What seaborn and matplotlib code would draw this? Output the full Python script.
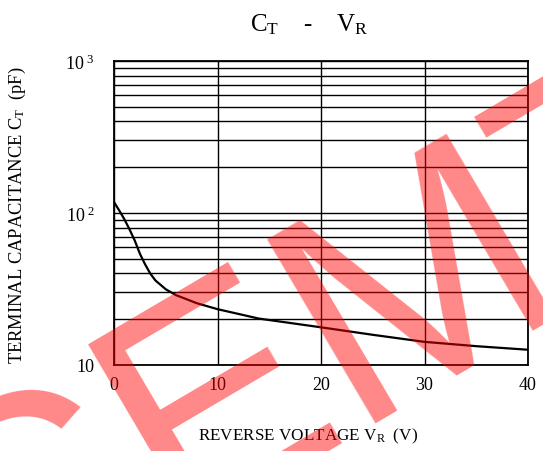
import numpy as np
import pandas as pd
import matplotlib
matplotlib.use("Agg")
import matplotlib.pyplot as plt
import seaborn as sns
from matplotlib.ticker import FixedLocator, NullFormatter

# data
vr = [0, 0.5, 1, 1.5, 2, 2.5, 3, 3.5, 4, 5, 6, 8, 10, 14, 20, 25, 30, 35, 40]
ct = [118, 104, 91, 78, 66, 54, 46, 40, 36, 31.5, 28.8, 25.5, 23.3, 20.2, 17.7, 15.8, 14.2, 13.3, 12.6]
x_ticks = [0, 10, 20, 30, 40]
y_major = [10, 100, 1000]
y_major_labels = ["10", r"$\mathrm{10^{\ 2}}$", r"$\mathrm{10^{\ 3}}$"]
watermark = "CEMT"

sns.set_theme(style="white")
plt.rcParams["font.family"] = ["Liberation Serif", "DejaVu Serif"]
plt.rcParams["mathtext.fontset"] = "custom"
plt.rcParams["mathtext.rm"] = "Liberation Serif"
plt.rcParams["mathtext.it"] = "Liberation Serif"

df = pd.DataFrame({"VR": vr, "CT": ct})

fig = plt.figure(figsize=(5.43, 4.52), dpi=100)
ax = fig.add_axes([114/543, 1 - 366/452, (528 - 114)/543, (366 - 62)/452])
sns.lineplot(data=df, x="VR", y="CT", ax=ax, color="black", linewidth=1.6, zorder=3)
ax.set_yscale("log")
ax.set_xlim(0, 40)
ax.set_ylim(10, 1000)

ax.xaxis.set_major_locator(FixedLocator(x_ticks))
ax.set_xticklabels([str(t) for t in x_ticks])
ax.yaxis.set_major_locator(FixedLocator(y_major))
ax.set_yticklabels(y_major_labels)
minors = [m * d for d in (10, 100) for m in range(2, 10)]
ax.yaxis.set_minor_locator(FixedLocator(minors))
ax.yaxis.set_minor_formatter(NullFormatter())

ax.grid(True, which="major", axis="x", color="black", linewidth=1.0)
ax.grid(True, which="both", axis="y", color="black", linewidth=1.0)
ax.tick_params(axis="both", which="both", length=0, labelsize=13, colors="black")
ax.tick_params(axis="x", pad=8)
ax.tick_params(axis="y", pad=14)
for s in ax.spines.values():
    s.set_color("black")
    s.set_linewidth(1.3)

ax.set_xlabel(r"REVERSE VOLTAGE $\mathrm{V_R}$  (V)", fontsize=12.3, color="black")
ax.xaxis.set_label_coords((308 - 114) / 414, -(436 - 366) / 304)
ax.xaxis.label.set_va("center")
ax.set_ylabel(r"TERMINAL CAPACITANCE $\mathrm{C_T}$  (pF)", fontsize=13.3, color="black")
ax.yaxis.set_label_coords(-(114 - 17) / 414, (366 - 215) / 304)
ax.yaxis.label.set_va("center")
fig.text(309/543, 1 - 25/452, r"$\mathrm{C_T}$    -    $\mathrm{V_R}$", ha="center", va="center",
         fontsize=18, color="black")

# watermark
fig.text(-20/543, 1 - 647/452, watermark, ha="left", va="baseline", rotation=30.5,
         rotation_mode="anchor", fontsize=224, family="Liberation Sans",
         color="#ff0000", alpha=0.47, zorder=10)

fig.savefig("out.png", dpi=100)
